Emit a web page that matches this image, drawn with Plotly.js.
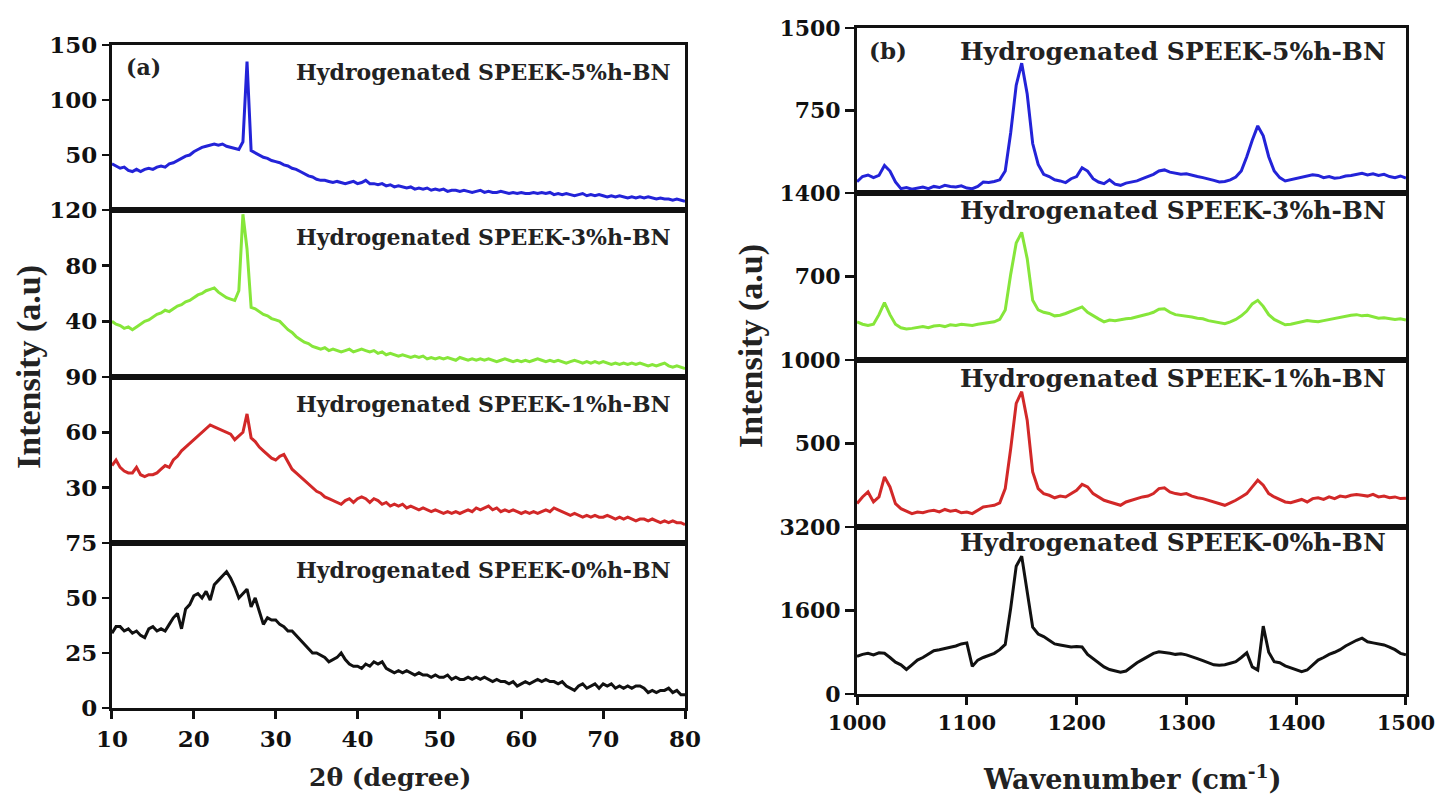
<!DOCTYPE html>
<html>
<head>
<meta charset="utf-8">
<script src="https://cdn.plot.ly/plotly-3.0.1.min.js"></script>
<style>html,body{margin:0;padding:0;background:#fff;}#chart{width:1437px;height:795px;}</style>
</head>
<body>
<div id="chart"></div>
<script>
// ---------------- DATA ----------------
const xrdTheta = [10,10.5,11,11.5,12,12.5,13,13.5,14,14.5,15,15.5,16,16.5,17,17.5,18,18.5,19,19.5,
20,20.5,21,21.5,22,22.5,23,23.5,24,24.5,25,25.5,26,26.5,27,27.5,28,28.5,29,29.5,
30,30.5,31,31.5,32,32.5,33,33.5,34,34.5,35,35.5,36,36.5,37,37.5,38,38.5,39,39.5,
40,40.5,41,41.5,42,42.5,43,43.5,44,44.5,45,45.5,46,46.5,47,47.5,48,48.5,49,49.5,
50,50.5,51,51.5,52,52.5,53,53.5,54,54.5,55,55.5,56,56.5,57,57.5,58,58.5,59,59.5,
60,60.5,61,61.5,62,62.5,63,63.5,64,64.5,65,65.5,66,66.5,67,67.5,68,68.5,69,69.5,
70,70.5,71,71.5,72,72.5,73,73.5,74,74.5,75,75.5,76,76.5,77,77.5,78,78.5,79,79.5,80];

const xrd5 = [42,40,38,39,36,35,37,35,37,38, 37,39,40,39,42,43,45,47,49,50,
53,55,57,58,59,60,59,60,58,57, 56,55,62,135,54,52,50,48,47,45,
44,43,41,40,38,37,35,33,31,30, 28,27,27,26,25,26,25,24,25,26,
24,25,27,24,24,23,24,22,23,21, 22,21,20,21,19,20,19,20,18,19,
18,19,17,18,18,17,18,17,16,17, 18,16,17,16,16,17,16,15,16,15,
16,15,15,16,15,16,15,16,14,15, 14,15,14,13,14,15,13,14,13,14,
13,12,13,12,13,12,11,12,11,12, 11,12,11,10,11,10,10,9,10,9, 8];

const xrd3 = [40,38,37,35,36,34,36,38,40,41, 43,45,46,48,47,49,51,52,54,55,
57,59,60,62,63,64,61,59,57,56, 55,62,117,92,50,49,47,45,44,42,
41,40,37,34,32,29,27,25,24,22, 21,20,21,19,20,19,18,19,20,18,
19,20,19,18,19,17,18,16,17,16, 15,16,15,14,15,14,15,13,14,13,
14,13,14,13,12,14,13,12,13,12, 13,12,13,12,11,12,13,12,11,12,
11,12,11,12,13,12,11,12,11,12, 11,10,11,12,11,10,11,10,11,10,
11,10,9,10,9,10,9,10,9,10, 9,8,9,8,9,10,8,7,8,7, 6];

const xrd1 = [42,45,41,39,38,38,41,37,36,37, 37,38,40,42,41,45,47,50,52,54,
56,58,60,62,64,63,62,61,60,59, 56,58,60,70,57,55,52,50,48,46,
45,47,48,44,40,38,36,34,32,30, 28,27,25,24,23,22,21,23,24,22,
24,25,24,22,24,23,21,22,20,21, 20,21,19,20,19,18,19,18,17,18,
17,16,17,16,17,16,17,18,17,19, 18,19,20,18,19,17,18,17,18,17,
16,17,16,17,16,17,18,17,19,18, 17,16,15,16,15,14,15,14,15,14,
14,15,14,13,14,13,14,13,12,13, 13,12,13,12,11,12,11,12,11,11, 10];

const xrd0 = [34,37,37,35,36,34,35,33,32,36, 37,35,36,35,38,41,43,36,45,47,
51,52,50,53,49,56,58,60,62,59, 55,50,52,54,46,50,44,38,41,40,
40,38,37,35,35,33,31,29,27,25, 25,24,23,21,22,23,25,22,20,19,
19,18,20,19,21,20,21,18,17,16, 17,16,17,16,15,16,15,15,14,15,
14,14,15,13,14,13,13,14,13,14, 13,14,13,12,13,12,12,11,12,10,
11,12,11,12,13,12,13,12,12,11, 12,10,9,8,10,11,9,10,11,9,
11,10,11,9,10,9,10,9,10,10, 9,7,8,7,8,8,9,7,8,6, 6];

const ramanWn = [1000,1005,1010,1015,1020,1025,1030,1035,1040,1045,1050,1055,1060,1065,1070,1075,1080,1085,1090,1095,
1100,1105,1110,1115,1120,1125,1130,1135,1140,1145,1150,1155,1160,1165,1170,1175,1180,1185,1190,1195,
1200,1205,1210,1215,1220,1225,1230,1235,1240,1245,1250,1255,1260,1265,1270,1275,1280,1285,1290,1295,
1300,1305,1310,1315,1320,1325,1330,1335,1340,1345,1350,1355,1360,1365,1370,1375,1380,1385,1390,1395,
1400,1405,1410,1415,1420,1425,1430,1435,1440,1445,1450,1455,1460,1465,1470,1475,1480,1485,1490,1495,1500];

const raman5 = [103,150,164,140,160,250,200,100,40,50, 35,45,55,40,60,50,70,60,55,65,
45,40,60,100,95,105,120,200,550,980, 1180,900,450,260,170,150,120,110,95,130,
150,230,200,130,100,85,120,80,70,90, 100,110,130,150,170,200,210,190,180,170,
175,160,150,140,130,115,100,105,120,145, 200,330,480,610,520,330,200,140,110,120,
130,140,150,165,160,140,150,135,140,155, 160,170,180,165,175,160,170,150,140,155, 135];

const raman3 = [320,300,290,300,380,480,380,300,270,260, 265,275,280,270,285,290,280,295,290,300,
295,290,300,305,310,320,340,420,720,980, 1070,850,500,420,400,390,370,375,390,410,
430,445,400,370,345,320,335,330,340,345, 350,360,370,385,400,425,430,400,380,375,
370,360,350,345,330,320,310,305,320,340, 370,410,470,500,450,380,340,320,295,300,
310,320,330,325,320,330,340,350,355,365, 375,380,370,375,365,350,355,345,340,345, 335];

const raman1 = [140,180,210,150,180,300,240,140,110,95, 80,90,85,95,100,90,105,95,100,85,
90,80,100,120,125,130,145,230,470,740, 810,640,330,230,200,190,175,185,180,200,
220,255,240,200,180,160,150,140,130,150, 160,170,180,185,200,230,235,210,200,195,
200,185,175,170,160,150,140,130,145,160, 180,200,240,280,250,200,180,165,150,145,
155,165,150,170,175,165,180,170,185,180, 190,195,190,185,195,180,185,175,180,170, 172];

const raman0 = [720,760,780,750,790,780,700,610,560,470, 560,650,700,760,830,850,870,900,920,960,
980,530,650,700,740,780,850,950,1650,2450, 2640,2000,1280,1150,1100,1030,960,940,920,900,
910,900,760,680,600,520,470,450,420,440, 520,600,660,720,780,810,800,780,760,770,
750,720,680,640,600,560,550,560,590,620, 700,790,520,460,1300,800,620,600,540,500,
470,430,460,560,650,700,760,800,850,920, 980,1030,1070,1000,980,960,940,900,850,780, 750];

const sampleLabels = ['Hydrogenated SPEEK-5%h-BN','Hydrogenated SPEEK-3%h-BN','Hydrogenated SPEEK-1%h-BN','Hydrogenated SPEEK-0%h-BN'];
const seriesColors = ['#2323d8','#86e63a','#d22828','#111111'];

const xrdRanges = [[0,150],[0,120],[0,90],[0,75]];
const xrdTicks = [[50,100,150],[40,80,120],[30,60,90],[0,25,50,75]];
const ramanRanges = [[0,1500],[0,1400],[0,1000],[0,3200]];
const ramanTicks = [[750,1500],[700,1400],[500,1000],[0,1600,3200]];
const xrdXTicks = [10,20,30,40,50,60,70,80];
const ramanXTicks = [1000,1100,1200,1300,1400,1500];

// ---------------- LAYOUT ----------------
const SERIF = 'DejaVu Serif';
const TIMES = 'Liberation Serif';
const leftDom = [0.0779, 0.4767];
const rightDom = [0.5964, 0.9784];
const leftY = [[0.7358,0.9434],[0.5258,0.7358],[0.3170,0.5258],[0.1094,0.3170]];
const rightY = [[0.7572,0.9648],[0.5472,0.7572],[0.3371,0.5472],[0.1270,0.3371]];

const xrdData = [xrd5, xrd3, xrd1, xrd0];
const ramanData = [raman5, raman3, raman1, raman0];

const traces = [];
const layout = {
  width: 1437, height: 795,
  margin: {l:0, r:0, t:0, b:0},
  paper_bgcolor: '#fff', plot_bgcolor: '#fff',
  showlegend: false,
  font: {family: SERIF, color: '#111', size: 20, weight: 'bold'},
  annotations: []
};

function axName(i){ return i === 1 ? '' : String(i); }

function addPanel(offset, xs, dataArr, xDom, yDoms, yRanges, yTicks, xRange, xTicks, tickSize, xTickSize, yTickLen){
  for (let k = 0; k < 4; k++){
    const i = offset + k + 1;
    const n = axName(i);
    traces.push({
      type: 'scatter', mode: 'lines',
      x: xs, y: dataArr[k],
      xaxis: 'x' + n, yaxis: 'y' + n,
      line: {color: seriesColors[k], width: 3},
      hoverinfo: 'skip'
    });
    const bottom = (k === 3);
    layout['xaxis' + n] = {
      domain: xDom, anchor: 'y' + n, range: xRange,
      showgrid: false, zeroline: false,
      showline: true, mirror: true, linecolor: '#111', linewidth: 3,
      ticks: bottom ? 'outside' : '', ticklen: 8, tickwidth: 3, tickcolor: '#111',
      tickvals: xTicks, showticklabels: bottom,
      tickfont: {family: SERIF, size: xTickSize, color: '#111', weight: 'bold'}
    };
    layout['yaxis' + n] = {
      domain: yDoms[k], anchor: 'x' + n, range: yRanges[k],
      showgrid: false, zeroline: false,
      showline: true, mirror: true, linecolor: '#111', linewidth: 3,
      ticks: 'outside', ticklen: yTickLen, tickwidth: 2.5, tickcolor: '#111',
      tickvals: yTicks[k],
      tickfont: {family: SERIF, size: tickSize, color: '#111', weight: 'bold'}
    };
  }
}

addPanel(0, xrdTheta, xrdData, leftDom, leftY, xrdRanges, xrdTicks, [10,80], xrdXTicks, 23, 23, 7);
addPanel(4, ramanWn, ramanData, rightDom, rightY, ramanRanges, ramanTicks, [1000,1500], ramanXTicks, 22, 21, 9);

// sample labels
const leftLabelY = [0.9094, 0.7019, 0.4918, 0.2830];
const rightLabelY = [0.9358, 0.7346, 0.5233, 0.3182];
for (let k = 0; k < 4; k++){
  layout.annotations.push({xref:'paper', yref:'paper', x:0.2046, y:leftLabelY[k], xanchor:'left', yanchor:'middle',
    text: sampleLabels[k], showarrow:false, font:{family:SERIF, size:22, color:'#222', weight:'bold'}});
  layout.annotations.push({xref:'paper', yref:'paper', x:0.6667, y:rightLabelY[k], xanchor:'left', yanchor:'middle',
    text: sampleLabels[k], showarrow:false, font:{family:SERIF, size:25, color:'#222', weight:'bold'}});
}
layout.annotations.push({xref:'paper', yref:'paper', x:0.0863, y:0.9157, xanchor:'left', yanchor:'middle',
  text:'(a)', showarrow:false, font:{family:SERIF, size:22, color:'#222', weight:'bold'}});
layout.annotations.push({xref:'paper', yref:'paper', x:0.6033, y:0.9371, xanchor:'left', yanchor:'middle',
  text:'(b)', showarrow:false, font:{family:SERIF, size:23, color:'#222', weight:'bold'}});

// axis titles
layout.annotations.push({xref:'paper', yref:'paper', x:0.0202, y:0.5384, xanchor:'center', yanchor:'middle', textangle:-90,
  text:'Intensity (a.u)', showarrow:false, font:{family:TIMES, size:34, color:'#222', weight:'bold'}});
layout.annotations.push({xref:'paper', yref:'paper', x:0.5226, y:0.5648, xanchor:'center', yanchor:'middle', textangle:-90,
  text:'Intensity (a.u)', showarrow:false, font:{family:TIMES, size:34, color:'#222', weight:'bold'}});
layout.annotations.push({xref:'paper', yref:'paper', x:0.2137, y:0.0214, xanchor:'left', yanchor:'middle',
  text:'2θ (degree)', showarrow:false, font:{family:SERIF, size:25, color:'#222', weight:'bold'}});
layout.annotations.push({xref:'paper', yref:'paper', x:0.6827, y:0.0214, xanchor:'left', yanchor:'middle',
  text:'Wavenumber (cm<sup>-1</sup>)', showarrow:false, font:{family:SERIF, size:27, color:'#222', weight:'bold'}});

Plotly.newPlot('chart', traces, layout, {staticPlot: true, displayModeBar: false});
</script>
</body>
</html>
